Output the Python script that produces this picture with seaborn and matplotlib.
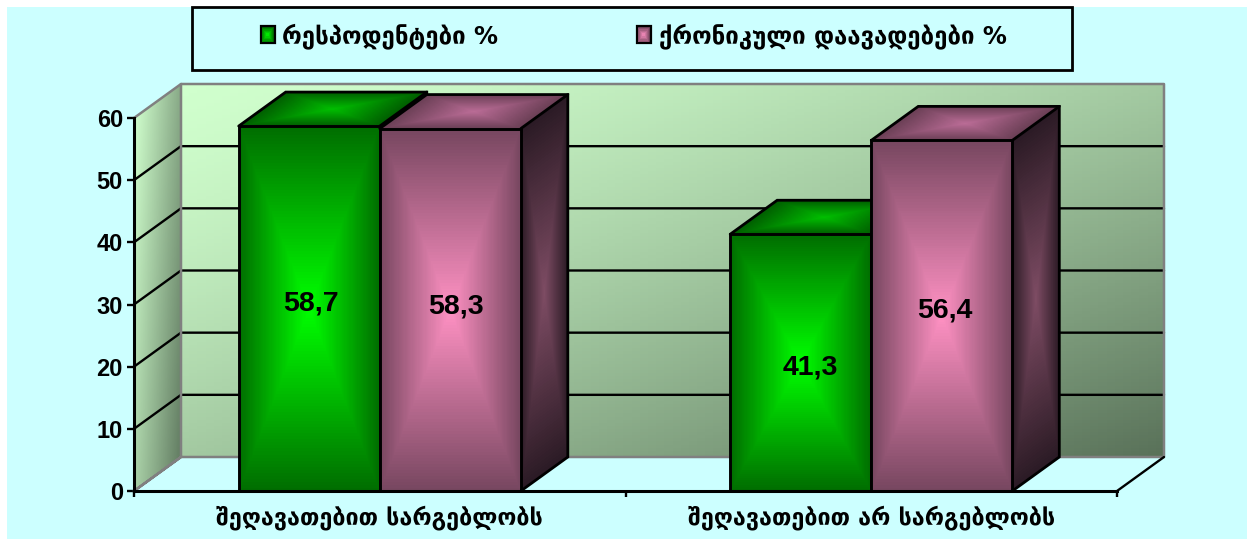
import numpy as np
import pandas as pd
import matplotlib
matplotlib.use('Agg')
import matplotlib.pyplot as plt
from matplotlib.patches import Rectangle, Patch
from matplotlib.legend_handler import HandlerBase
import seaborn as sns


categories = ['შეღავათებით სარგებლობს', 'შეღავათებით არ სარგებლობს']
series_names = ['რესპოდენტები %', 'ქრონიკული დაავადებები %']
respondents = [58.7, 41.3]
chronic = [58.3, 56.4]
value_labels = [['58,7', '41,3'], ['58,3', '56,4']]
y_ticks = [0, 10, 20, 30, 40, 50, 60]

W, H = 1253, 539
BG = '#CCFFFF'

# colours of each bar face: (centre, edge)
FRONT = [((0, 255, 0), (0, 108, 0)), ((255, 145, 195), (118, 70, 95))]
TOP = [((0, 190, 0), (0, 92, 0)), ((186, 108, 150), (105, 62, 84))]
SIDE = [((0, 110, 0), (0, 45, 0)), ((126, 76, 100), (42, 26, 36))]
# label shift from the bar middle, in pixels
LABEL_SHIFT = [[(2, 5), (10, -5)], [(6, 3), (3, 5)]]

sns.set_theme(style='white')
plt.rcParams['font.family'] = ['DejaVu Sans']

positions = list(range(len(categories)))
df = pd.DataFrame({
    'position': positions * 2,
    'series': [series_names[0]] * 2 + [series_names[1]] * 2,
    'value': respondents + chronic,
})

fig = plt.figure(figsize=(W / 100, H / 100), dpi=100, facecolor='white')
fig.patches.append(Rectangle((7 / W, 0), (1247 - 7) / W, (H - 7) / H, transform=fig.transFigure,
                             facecolor=BG, edgecolor='none', zorder=-5))
ax = fig.add_axes([134 / W, (H - 491) / H, (1117 - 134) / W, (491 - 118) / H])
ax.patch.set_alpha(0)

sns.barplot(data=df, x='position', y='value', hue='series', palette=['#00A000', '#A06080'],
            width=0.574, saturation=1, legend=False, ax=ax, errorbar=None, native_scale=True)

x0, x1 = -0.5, 1.5
y0, y1 = y_ticks[0], y_ticks[-1]
px_x = (x1 - x0) / (1117 - 134)
px_y = (y1 - y0) / (491 - 118)
dx, dy = 47 * px_x, 34 * px_y


def rgb(c):
    return np.array(c, dtype=float) / 255


def shade_face(p00, p10, p01, p11, colours, z, n=120, mode='rect'):
    # bilinear grid over four corners, coloured per cell
    u = np.linspace(0, 1, n + 1)
    uu, vv = np.meshgrid(u, u)
    corners = np.array([p00, p10, p01, p11], dtype=float)
    X = (1 - uu) * (1 - vv) * corners[0, 0] + uu * (1 - vv) * corners[1, 0] + (1 - uu) * vv * corners[2, 0] + uu * vv * corners[3, 0]
    Y = (1 - uu) * (1 - vv) * corners[0, 1] + uu * (1 - vv) * corners[1, 1] + (1 - uu) * vv * corners[2, 1] + uu * vv * corners[3, 1]
    c = (u[:-1] + u[1:]) / 2
    cu, cv = np.meshgrid(c, c)
    if mode == 'rect':
        t = np.maximum(np.abs(2 * cu - 1), np.abs(2 * cv - 1))
    elif mode == 'side_wall':
        t = 0.6 * cu + 0.32 * (1 - cv)
    else:
        t = (0.5 * cu + 0.5 * (1 - cv)) ** 1.4
    t = t[..., None]
    col = rgb(colours[0]) * (1 - t) + rgb(colours[1]) * t
    m = ax.pcolormesh(X, Y, col, zorder=z, linewidth=0, antialiased=False)
    m.set_clip_on(False)


GREY = '#808080'
# back wall and left wall
shade_face((x0 + dx, y0 + dy), (x1 + dx, y0 + dy), (x0 + dx, y1 + dy), (x1 + dx, y1 + dy),
           ((208, 255, 205), (88, 112, 88)), 1, mode='wall')
shade_face((x0, y0), (x0 + dx, y0 + dy), (x0, y1), (x0 + dx, y1 + dy),
           ((208, 255, 205), (88, 112, 88)), 1, mode='side_wall')

for t in y_ticks[1:-1]:
    ax.plot([x0, x0 + dx, x1 + dx], [t, t + dy, t + dy], color='black', lw=1.7, zorder=2, clip_on=False)

ax.plot([x0, x0 + dx, x1 + dx, x1 + dx, x0 + dx, x0 + dx, x0], [y0, y0 + dy, y0 + dy, y1 + dy, y1 + dy, y0 + dy, y0],
        color=GREY, lw=1.8, zorder=3, clip_on=False)
ax.plot([x0, x0 + dx], [y1, y1 + dy], color=GREY, lw=1.8, zorder=3, clip_on=False)
ax.plot([x1, x1 + dx], [y0, y0 + dy], color='black', lw=1.7, zorder=3, clip_on=False)

# bars: seaborn gives the front faces, depth faces are built on them
bars = list(ax.patches)
n_cat = len(categories)
for i, bar in enumerate(bars):
    s = i // n_cat
    c = i % n_cat
    z = 10 + 5 * s
    xa, xb = bar.get_x(), bar.get_x() + bar.get_width()
    top = bar.get_height()
    shade_face((xb, 0), (xb + dx, dy), (xb, top), (xb + dx, top + dy), SIDE[s], z)
    shade_face((xa, top), (xb, top), (xa + dx, top + dy), (xb + dx, top + dy), TOP[s], z)
    shade_face((xa, 0), (xb, 0), (xa, top), (xb, top), FRONT[s], z + 1)
    ax.plot([xa, xa + dx, xb + dx, xb + dx, xb], [top, top + dy, top + dy, dy, 0],
            color='black', lw=2, zorder=z + 2, clip_on=False, solid_joinstyle='miter')
    ax.plot([xb, xb + dx], [top, top + dy], color='black', lw=2, zorder=z + 2, clip_on=False)
    bar.set_facecolor('none')
    bar.set_edgecolor('black')
    bar.set_linewidth(2.1)
    bar.set_zorder(z + 3)
    bar.set_clip_on(False)
    ax.annotate(value_labels[s][c], ((xa + xb) / 2, top / 2), xytext=LABEL_SHIFT[s][c],
                textcoords='offset pixels', ha='center', va='center',
                fontsize=20.5, fontweight='bold', family='Liberation Sans', color='black', zorder=30)

ax.set_xlim(x0, x1)
ax.set_ylim(y0, y1)
ax.set_xlabel('')
ax.set_ylabel('')
ax.set_yticks(y_ticks)
ax.set_xticks(positions)
ax.set_xticklabels(categories, fontsize=16.8, fontweight='bold')
ax.set_xticks([-0.5, 0.5, 1.5], minor=True)
ax.tick_params(axis='x', which='major', length=0, pad=10, colors='black')
ax.tick_params(axis='x', which='minor', bottom=True, length=4.5, width=1.7, color='black')
ax.tick_params(axis='y', left=True, length=5, width=1.7, pad=3, color='black')
for lab in ax.get_yticklabels():
    lab.set_fontfamily('Liberation Sans')
    lab.set_fontweight('bold')
    lab.set_fontsize(17)
    lab.set_color('black')

sns.despine(ax=ax)
for side in ['left', 'bottom']:
    ax.spines[side].set_color('black')
    ax.spines[side].set_linewidth(2.2)
    ax.spines[side].set_zorder(40)


# legend
class GradientSwatch(HandlerBase):
    def __init__(self, colours):
        super().__init__()
        self.colours = colours

    def create_artists(self, legend, orig_handle, xdescent, ydescent, width, height, fontsize, trans):
        centre, edge = self.colours
        arts = [Rectangle((-xdescent, -ydescent), width, height, facecolor=rgb(edge),
                          edgecolor='black', linewidth=1.6, transform=trans)]
        for k in range(1, 6):
            f = k / 6
            col = rgb(edge) * (1 - f) + rgb(centre) * f
            arts.append(Rectangle((-xdescent + width * f / 2, -ydescent + height * f / 2),
                                  width * (1 - f), height * (1 - f), facecolor=col,
                                  edgecolor='none', transform=trans))
        return arts


fig.patches.append(Rectangle((192 / W, (H - 70) / H), (1072 - 192) / W, 63 / H, transform=fig.transFigure,
                             facecolor=BG, edgecolor='black', linewidth=2, zorder=-4))
handles = [Patch(label=series_names[0]), Patch(label=series_names[1])]
leg = ax.legend(handles=handles, labels=series_names, ncol=2, loc='center',
                bbox_to_anchor=(633.5 / W, (H - 36) / H), bbox_transform=fig.transFigure,
                frameon=False, borderpad=0, columnspacing=5.75,
                prop={'size': 17.3, 'weight': 'bold'},
                handlelength=0.58, handleheight=0.71, handletextpad=0.33,
                handler_map={handles[0]: GradientSwatch(FRONT[0]), handles[1]: GradientSwatch(FRONT[1])})
for txt in leg.get_texts():
    txt.set_color('black')

fig.savefig('out.png', dpi=100, facecolor=fig.get_facecolor())
